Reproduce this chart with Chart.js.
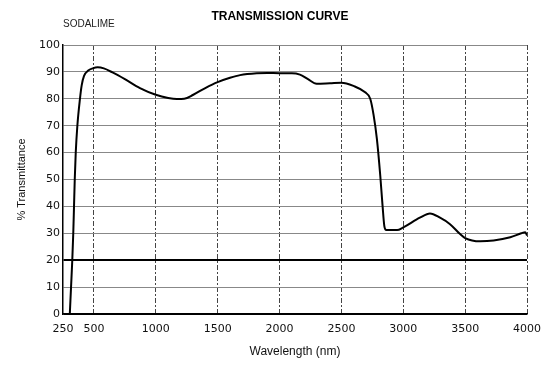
<!DOCTYPE html>
<html>
<head>
<meta charset="utf-8">
<script src="https://cdn.jsdelivr.net/npm/chart.js@4"></script>
<style>
    body { margin: 0; background: #fff; }
    .box { width: 551px; height: 366px; }
</style>
</head>
<body>
<div class="box"><canvas id="myChart"></canvas></div>
<script>
const wavelength = [305, 315, 325, 333, 339, 345, 353, 366, 387, 401, 420, 454, 490, 530, 580, 650, 750, 872,
    1000, 1100, 1170, 1230, 1303, 1400, 1500, 1600, 1681, 1815, 1900, 2000, 2100, 2165, 2230, 2300, 2408, 2500,
    2597, 2692, 2733, 2760, 2787, 2814, 2833, 2847, 2863, 2950, 3000, 3134, 3216, 3297, 3378, 3459, 3500, 3622,
    3730, 3865, 3954, 3986, 4000];
const transmittance = [0, 10, 20, 30, 40, 50, 60, 70, 80, 85, 88.5, 90.5, 91.3, 91.7, 91.3, 89.8, 87.3, 84,
    81.5, 80.3, 79.9, 80, 81.5, 84, 86.2, 87.8, 88.8, 89.5, 89.6, 89.5, 89.5, 89, 87.3, 85.6, 85.8, 86,
    84.8, 82.4, 80, 74, 65, 51.5, 40, 32.7, 31.2, 31.2, 32.2, 35.8, 37.4, 35.8, 33.4, 29.7, 28.2, 27.0,
    27.3, 28.5, 30, 30.4, 29.2];

const xTicks = [250, 500, 1000, 1500, 2000, 2500, 3000, 3500, 4000];
const yTicks = [0, 10, 20, 30, 40, 50, 60, 70, 80, 90, 100];

const points = wavelength.map((w, i) => ({ x: w, y: transmittance[i] }));

// header texts (title sits a bit off-centre in the original)
const header = {
    id: 'header',
    afterDraw(chart) {
        const ctx = chart.ctx;
        ctx.save();
        ctx.fillStyle = '#000';
        ctx.textBaseline = 'middle';
        ctx.textAlign = 'center';
        ctx.font = 'bold 12px "Liberation Sans", Arial, sans-serif';
        ctx.fillText('TRANSMISSION CURVE', 280, 17);
        ctx.fillStyle = '#222';
        ctx.textAlign = 'left';
        ctx.textBaseline = 'alphabetic';
        ctx.font = '10px "Liberation Sans", Arial, sans-serif';
        ctx.fillText('SODALIME', 63, 27);
        ctx.restore();
    }
};

const config = {
    type: 'line',
    data: {
        datasets: [{
            data: points,
            borderColor: '#000',
            borderWidth: 2,
            pointRadius: 0,
            cubicInterpolationMode: 'monotone',
            fill: false
        }]
    },
    options: {
        responsive: true,
        maintainAspectRatio: false,
        animation: false,
        layout: {
            padding: { top: 45, right: 24, bottom: 0, left: 0 }
        },
        scales: {
            x: {
                type: 'linear',
                min: 250,
                max: 4000,
                afterBuildTicks: (scale) => {
                    scale.ticks = xTicks.map(v => ({ value: v }));
                },
                afterFit: (scale) => {
                    scale.height = 52;
                },
                grid: {
                    color: (c) => c.tick && c.tick.value === 250 ? 'transparent' : '#444',
                    lineWidth: 1,
                    drawTicks: false
                },
                border: {
                    color: '#000',
                    width: 1.5,
                    dash: [5, 2, 2, 2]
                },
                ticks: {
                    padding: 9,
                    color: '#111',
                    maxRotation: 0,
                    autoSkip: false,
                    callback: (v) => String(v),
                    font: { family: '"DejaVu Sans", sans-serif', size: 11 }
                },
                title: {
                    display: true,
                    text: 'Wavelength (nm)',
                    color: '#111',
                    padding: { top: 0, bottom: 7 },
                    font: { family: '"Liberation Sans", Arial, sans-serif', size: 12 }
                }
            },
            y: {
                min: 0,
                max: 100,
                afterBuildTicks: (scale) => {
                    scale.ticks = yTicks.map(v => ({ value: v }));
                },
                afterFit: (scale) => {
                    scale.width = 63;
                },
                grid: {
                    color: (c) => {
                        if (!c.tick) return '#888';
                        if (c.tick.value === 20 || c.tick.value === 0) return '#000';
                        return '#888';
                    },
                    lineWidth: (c) => c.tick && c.tick.value === 20 ? 2 : 1,
                    drawTicks: false
                },
                border: {
                    color: '#000',
                    width: 1.5
                },
                ticks: {
                    padding: 3,
                    color: '#111',
                    font: { family: '"DejaVu Sans", sans-serif', size: 11 }
                },
                title: {
                    display: true,
                    text: '% Transmittance',
                    color: '#111',
                    padding: { top: 15, bottom: 0 },
                    font: { family: '"Liberation Sans", Arial, sans-serif', size: 11 }
                }
            }
        },
        plugins: {
            legend: { display: false },
            tooltip: { enabled: false },
            title: { display: false }
        }
    },
    plugins: [header]
};

const myChart = new Chart(
    document.getElementById('myChart'),
    config
);
</script>
</body>
</html>
